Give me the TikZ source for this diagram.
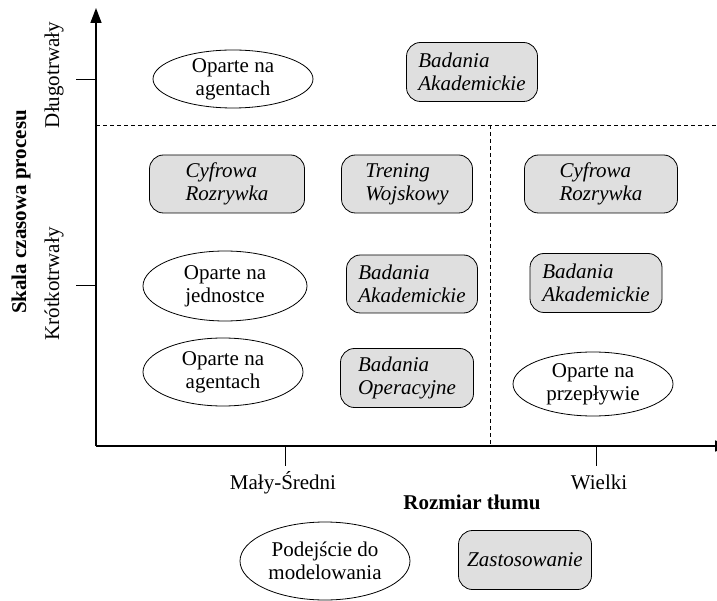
\documentclass[tikz,border=0pt]{standalone}
\usepackage{fontspec}
\setmainfont{Liberation Serif}
\usetikzlibrary{arrows.meta}
\tikzset{
  txt/.style={font=\fontsize{21}{23}\selectfont, inner sep=0pt, align=center},
  etext/.style={txt},
  eline/.style={draw=black, line width=0.8pt},
  gbox/.style={txt, draw=black, line width=0.8pt, fill=gray!25, rounded corners=14pt, align=left, minimum width=#1},
  gbox/.default=131pt,
  axisline/.style={line width=1.5pt},
  tickline/.style={line width=0.9pt},
  dashline/.style={line width=0.8pt, dash pattern=on 4pt off 3pt},
  bold/.style={txt, font=\fontsize{21}{23}\selectfont\bfseries},
}
\begin{document}
\begin{tikzpicture}[x=1pt,y=-1pt]
\useasboundingbox (0,0) rectangle (717,601);
% axes
\coordinate (O) at (96,446);
\coordinate (Ytop) at (96,8);
\coordinate (Xend) at (730,446);
\draw[axisline,-{Triangle[length=15pt,width=11pt]}] (O) -- (Ytop);
\draw[axisline,-{Triangle[length=15pt,width=11pt]}] (O) -- (Xend);
% ticks
\coordinate (ty1a) at (76,79); \coordinate (ty1b) at (96,79);
\coordinate (ty2a) at (76,285); \coordinate (ty2b) at (96,285);
\coordinate (tx1a) at (285,446); \coordinate (tx1b) at (285,466);
\coordinate (tx2a) at (596,446); \coordinate (tx2b) at (596,466);
\draw[tickline] (ty1a) -- (ty1b);
\draw[tickline] (ty2a) -- (ty2b);
\draw[tickline] (tx1a) -- (tx1b);
\draw[tickline] (tx2a) -- (tx2b);
% dashed separators
\coordinate (dh1) at (96,125); \coordinate (dh2) at (717,125);
\coordinate (dv1) at (490,125); \coordinate (dv2) at (490,446);
\draw[dashline] (dh1) -- (dh2);
\draw[dashline] (dv1) -- (dv2);
% axis labels
\node[txt, rotate=90] (ldl) at (54,75) {Długotrwały};
\node[txt, rotate=90] (lkr) at (54,284) {Krótkotrwały};
\node[bold, rotate=90] (lsk) at (21,212) {Skala czasowa procesu};
\node[txt] (lms) at (283,483) {Mały-Średni};
\node[txt] (lwi) at (599,482) {Wielki};
\node[bold] (lrt) at (472,502) {Rozmiar tłumu};
% ellipses
\node[etext] (eA1) at (233,79) {Oparte na\\agentach};
\draw[eline] (eA1.center) ellipse [x radius=80pt, y radius=29pt];
\node[etext] (eJ) at (225,286) {Oparte na\\jednostce};
\draw[eline] (eJ.center) ellipse [x radius=82pt, y radius=35pt];
\node[etext] (eA2) at (223,372) {Oparte na\\agentach};
\draw[eline] (eA2.center) ellipse [x radius=80pt, y radius=34pt];
\node[etext] (eP) at (593,384) {Oparte na\\przepływie};
\draw[eline] (eP.center) ellipse [x radius=80pt, y radius=32pt];
\node[etext] (eM) at (325,561) {Podejście do\\modelowania};
\draw[eline] (eM.center) ellipse [x radius=85pt, y radius=39pt];
% boxes
\node[gbox=131pt, minimum height=59pt] (bBA1) at (472,72) {\itshape Badania\\\itshape Akademickie};
\node[gbox=155pt, minimum height=58pt] (bCR1) at (227,184) {\itshape Cyfrowa\\\itshape Rozrywka};
\node[gbox=131pt, minimum height=58pt] (bTW) at (407,184) {\itshape Trening\\\itshape Wojskowy};
\node[gbox=153pt, minimum height=58pt] (bCR2) at (601,184) {\itshape Cyfrowa\\\itshape Rozrywka};
\node[gbox=131pt, minimum height=58pt] (bBA2) at (412,284) {\itshape Badania\\\itshape Akademickie};
\node[gbox=132pt, minimum height=59pt] (bBA3) at (596,283) {\itshape Badania\\\itshape Akademickie};
\node[gbox=133pt, minimum height=59pt] (bBO) at (407,378) {\itshape Badania\\\itshape Operacyjne};
\node[gbox=133pt, minimum height=59pt] (bZ) at (525,560) {\itshape Zastosowanie};
\end{tikzpicture}
\end{document}
